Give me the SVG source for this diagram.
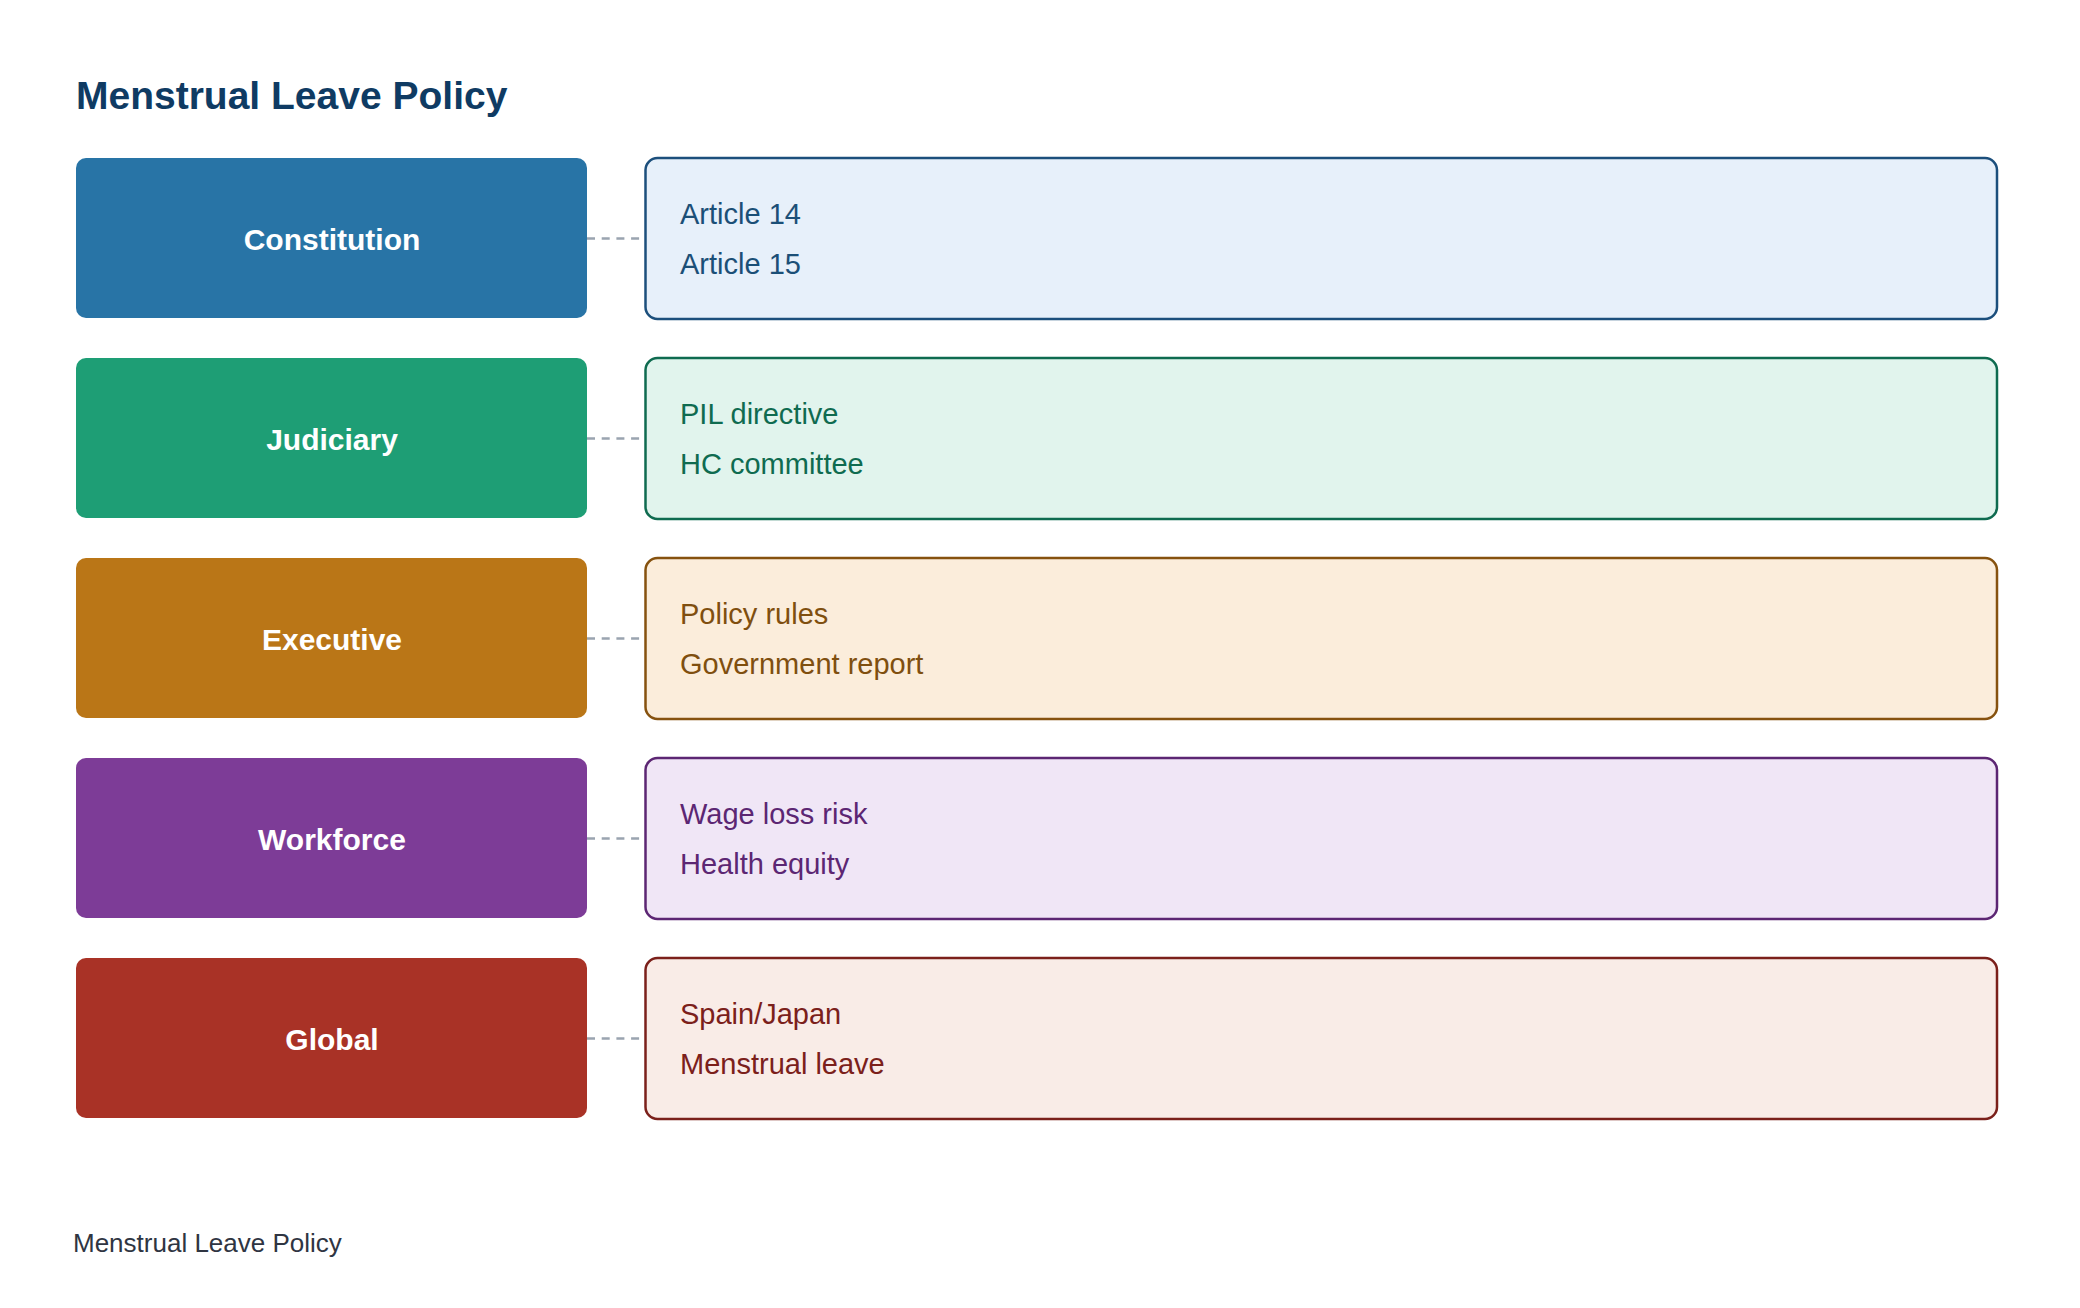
<svg xmlns="http://www.w3.org/2000/svg" width="2080" height="1308" viewBox="0 0 2080 1308">
<style>
text{font-family:"Liberation Sans",Arial,sans-serif}
.title{font-size:39px;font-weight:bold;fill:#0f3b63}
.lab{font-size:30px;font-weight:bold;fill:#ffffff;text-anchor:middle}
.item{font-size:29px}
.foot{font-size:26px;fill:#2f3542}
.conn{stroke:#9aa4b0;stroke-width:2.4;stroke-dasharray:8 6.7;fill:none}
.cat{stroke:none}
.det{stroke-width:2.5}
</style>
<rect width="2080" height="1308" fill="#ffffff"/>
<text class="title" x="76" y="109">Menstrual Leave Policy</text>
<g id="connectors">
<line class="conn" x1="587" y1="238.5" x2="640" y2="238.5"/>
<line class="conn" x1="587" y1="438.5" x2="640" y2="438.5"/>
<line class="conn" x1="587" y1="638.5" x2="640" y2="638.5"/>
<line class="conn" x1="587" y1="838.5" x2="640" y2="838.5"/>
<line class="conn" x1="587" y1="1038.5" x2="640" y2="1038.5"/>
</g>
<g id="constitution">
<rect class="cat" x="76" y="158" width="511" height="160" rx="10" fill="#2874a6"/>
<text class="lab" x="332" y="250">Constitution</text>
</g>
<g id="constitution-details">
<rect class="det" x="645.5" y="158" width="1351.5" height="161" rx="12" fill="#e7f0fa" stroke="#1c4f7c"/>
<text class="item" x="680" y="224" fill="#1b4f77">Article 14</text>
<text class="item" x="680" y="274" fill="#1b4f77">Article 15</text>
</g>
<g id="judiciary">
<rect class="cat" x="76" y="358" width="511" height="160" rx="10" fill="#1e9e75"/>
<text class="lab" x="332" y="450">Judiciary</text>
</g>
<g id="judiciary-details">
<rect class="det" x="645.5" y="358" width="1351.5" height="161" rx="12" fill="#e1f4ed" stroke="#0f6b50"/>
<text class="item" x="680" y="424" fill="#0f6b50">PIL directive</text>
<text class="item" x="680" y="474" fill="#0f6b50">HC committee</text>
</g>
<g id="executive">
<rect class="cat" x="76" y="558" width="511" height="160" rx="10" fill="#ba7617"/>
<text class="lab" x="332" y="650">Executive</text>
</g>
<g id="executive-details">
<rect class="det" x="645.5" y="558" width="1351.5" height="161" rx="12" fill="#fbeddb" stroke="#86520f"/>
<text class="item" x="680" y="624" fill="#7f4f0f">Policy rules</text>
<text class="item" x="680" y="674" fill="#7f4f0f">Government report</text>
</g>
<g id="workforce">
<rect class="cat" x="76" y="758" width="511" height="160" rx="10" fill="#7d3c97"/>
<text class="lab" x="332" y="850">Workforce</text>
</g>
<g id="workforce-details">
<rect class="det" x="645.5" y="758" width="1351.5" height="161" rx="12" fill="#f0e6f6" stroke="#5c2673"/>
<text class="item" x="680" y="824" fill="#5c2673">Wage loss risk</text>
<text class="item" x="680" y="874" fill="#5c2673">Health equity</text>
</g>
<g id="global">
<rect class="cat" x="76" y="958" width="511" height="160" rx="10" fill="#a93226"/>
<text class="lab" x="332" y="1050">Global</text>
</g>
<g id="global-details">
<rect class="det" x="645.5" y="958" width="1351.5" height="161" rx="12" fill="#f9ece7" stroke="#7b201b"/>
<text class="item" x="680" y="1024" fill="#7b201b">Spain/Japan</text>
<text class="item" x="680" y="1074" fill="#7b201b">Menstrual leave</text>
</g>
<text class="foot" x="73" y="1252">Menstrual Leave Policy</text>
</svg>
